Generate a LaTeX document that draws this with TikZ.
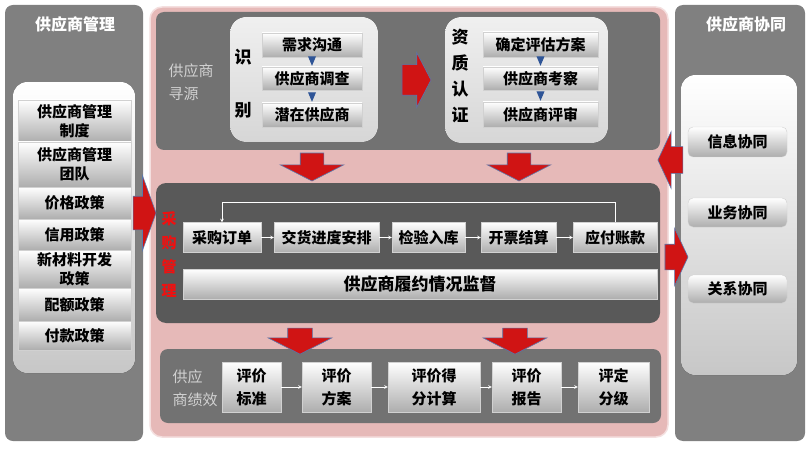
\documentclass[tikz,border=0pt]{standalone}
\usepackage{fontspec}
\setmainfont{Noto Sans CJK SC}
\usepackage{tikz}
\usetikzlibrary{arrows,positioning,shapes.arrows}
\definecolor{panelgray}{HTML}{808080}
\definecolor{pinkbg}{HTML}{E6B9B8}
\definecolor{secgray}{HTML}{727272}
\definecolor{midgray}{HTML}{595959}
\definecolor{arrowred}{HTML}{D01414}
\definecolor{arrowblue}{HTML}{2F5597}
\definecolor{labelred}{HTML}{F01010}
\tikzstyle{flowarrow} = [white,semithick,->,>=stealth]
\tikzstyle{bluearrow} = [arrowblue,line width=1.2pt,-triangle 45,shorten >=1pt,shorten <=4pt]

\begin{document}
\begin{tikzpicture}[x=1pt,y=-1pt]
    \tikzstyle{panel}=[fill=panelgray,rounded corners=8pt]
    \tikzstyle{whitepanel}=[top color=white,bottom color=black!22,rounded corners=14pt]
    \tikzstyle{item}=[
        rectangle,
        top color=white,
        bottom color=black!32,
        draw=black!18,
        inner sep=0pt,
        align=center,
        font=\fontsize{15}{19}\selectfont\bfseries
    ]
    \tikzstyle{title}=[white,font=\fontsize{16}{18}\selectfont\bfseries]
    \tikzstyle{seclabel}=[black!18,align=left,anchor=west,font=\fontsize{15}{23}\selectfont]
    \tikzstyle{redarrow}=[
        single arrow,
        fill=arrowred,
        draw=arrowblue!80,
        line width=0.6pt,
        inner xsep=0pt
    ]

    \useasboundingbox [fill=white] (0,0) rectangle (810,449);

    % left and right panels
    \fill [panel] (5,5) rectangle (143,441);
    \fill [panel] (675,5) rectangle (805,441);
    \fill [whitepanel] (13,82) rectangle (135,373);
    \fill [whitepanel] (681,75) rectangle (797,375);
    \node [title] (lt) at (75,24) {供应商管理};
    \node [title] (rt) at (746,24) {供应商协同};

    % centre area
    \filldraw [fill=pinkbg,draw=pinkbg!45,line width=1.5pt,rounded corners=12pt] (150,7) rectangle (668,437);
    \fill [secgray,rounded corners=8pt] (156,12) rectangle (660,150);
    \fill [midgray,rounded corners=10pt] (156,183) rectangle (660,323);
    \fill [secgray,rounded corners=8pt] (160,349) rectangle (661,423);
    \fill [top color=black!6,bottom color=black!16,rounded corners=16pt] (230,17) rectangle (378,142);
    \fill [top color=black!6,bottom color=black!16,rounded corners=16pt] (445,17) rectangle (608,143);

    % left items
    \node [item, minimum width=113, minimum height=42] (zd) at (74.5,121) {供应商管理\\制度};
    \node [item, minimum width=113, minimum height=45] (td) at (74.5,164.5) {供应商管理\\团队};
    \node [item, minimum width=113, minimum height=32] (jg) at (74.5,203) {价格政策};
    \node [item, minimum width=113, minimum height=31] (xy) at (74.5,234.5) {信用政策};
    \node [item, minimum width=113, minimum height=38] (xc) at (74.5,269) {新材料开发\\政策};
    \node [item, minimum width=113, minimum height=33] (pe) at (74.5,304.5) {配额政策};
    \node [item, minimum width=113, minimum height=29] (fk) at (74.5,335.5) {付款政策};

    % supplier sourcing
    \node [seclabel] (xyl) at (165,82) {供应商\\寻源};
    \node [font=\fontsize{17}{19}\selectfont\bfseries] (sb1) at (243,57) {识};
    \node [font=\fontsize{17}{19}\selectfont\bfseries] (sb2) at (243,110) {别};
    \node [item, minimum width=100, minimum height=24] (xq) at (312,45) {需求沟通};
    \node [item, minimum width=100, minimum height=23] (dc) at (312,78.5) {供应商调查};
    \node [item, minimum width=100, minimum height=24] (qz) at (312,115) {潜在供应商};
    \draw [bluearrow] (xq) -- (dc);
    \draw [bluearrow] (dc) -- (qz);
    \node [align=center,font=\fontsize{17}{26}\selectfont\bfseries] (zz) at (460,76) {资\\质\\认\\证};
    \node [item, minimum width=115, minimum height=25] (pg) at (540.5,44.5) {确定评估方案};
    \node [item, minimum width=115, minimum height=23] (kc) at (540.5,78.5) {供应商考察};
    \node [item, minimum width=115, minimum height=25] (ps) at (540.5,114.5) {供应商评审};
    \draw [bluearrow] (pg) -- (kc);
    \draw [bluearrow] (kc) -- (ps);

    % procurement
    \node [labelred,align=center,font=\fontsize{15}{24}\selectfont\bfseries] (cgl) at (169,255) {采\\购\\管\\理};
    \node [item, minimum width=78, minimum height=30] (cg) at (222,237.5) {采购订单};
    \node [item, minimum width=105, minimum height=30] (jh) at (326.5,237.5) {交货进度安排};
    \node [item, minimum width=73, minimum height=30] (jy) at (428.5,237.5) {检验入库};
    \node [item, minimum width=75, minimum height=30] (kp) at (518.5,237.5) {开票结算};
    \node [item, minimum width=84, minimum height=30] (yf) at (615,237.5) {应付账款};
    \node [item, minimum width=474, minimum height=30, font=\fontsize{17}{19}\selectfont\bfseries] (jd) at (420,284) {供应商履约情况监督};
    \draw [flowarrow] (cg) -- (jh);
    \draw [flowarrow] (jh) -- (jy);
    \draw [flowarrow] (jy) -- (kp);
    \draw [flowarrow] (kp) -- (yf);
    \draw [flowarrow] (yf.north) -- ++(0,-20) -| (cg.north);

    % performance
    \node [seclabel] (jx) at (169,388) {供应\\商绩效};
    \node [item, minimum width=59, minimum height=50, font=\fontsize{15}{23}\selectfont\bfseries] (bz) at (251.5,387) {评价\\标准};
    \node [item, minimum width=69, minimum height=50, font=\fontsize{15}{23}\selectfont\bfseries] (fa) at (336.5,387) {评价\\方案};
    \node [item, minimum width=92, minimum height=50, font=\fontsize{15}{23}\selectfont\bfseries] (df) at (434,387) {评价得\\分计算};
    \node [item, minimum width=69, minimum height=50, font=\fontsize{15}{23}\selectfont\bfseries] (bg) at (526.5,387) {评价\\报告};
    \node [item, minimum width=71, minimum height=50, font=\fontsize{15}{23}\selectfont\bfseries] (fj) at (613.5,387) {评定\\分级};
    \draw [flowarrow] (bz) -- (fa);
    \draw [flowarrow] (fa) -- (df);
    \draw [flowarrow] (df) -- (bg);
    \draw [flowarrow] (bg) -- (fj);

    % cooperation items
    \node [item, rounded corners=5pt, minimum width=99, minimum height=30] (xx) at (737.5,142) {信息协同};
    \node [item, rounded corners=5pt, minimum width=99, minimum height=29] (yw) at (737.5,212.5) {业务协同};
    \node [item, rounded corners=5pt, minimum width=99, minimum height=28] (gx) at (737.5,289) {关系协同};

    % block arrows
    \node [redarrow, rotate=-90, minimum height=28, inner ysep=11.5pt, single arrow head extend=20pt, single arrow tip angle=126] (a1) at (312,164) {};
    \node [redarrow, rotate=-90, minimum height=28, inner ysep=11.5pt, single arrow head extend=20pt, single arrow tip angle=126] (a2) at (519,164) {};
    \node [redarrow, rotate=-90, minimum height=26, inner ysep=12pt, single arrow head extend=19.5pt, single arrow tip angle=126] (a7) at (300,338) {};
    \node [redarrow, rotate=-90, minimum height=26, inner ysep=12pt, single arrow head extend=19.5pt, single arrow tip angle=126] (a8) at (515,338) {};
    \node [redarrow, minimum height=29, inner ysep=15pt, single arrow head extend=12pt, single arrow tip angle=125] (a3) at (412.5,80) {};
    \node [redarrow, minimum height=23, inner ysep=16.5pt, single arrow head extend=20.5pt, single arrow tip angle=140] (a4) at (141.5,213) {};
    \node [redarrow, rotate=180, minimum height=25, inner ysep=13pt, single arrow head extend=15pt, single arrow tip angle=130] (a5) at (673.5,160) {};
    \node [redarrow, minimum height=23, inner ysep=12.5pt, single arrow head extend=16pt, single arrow tip angle=130] (a6) at (673.5,257) {};
\end{tikzpicture}
\end{document}
